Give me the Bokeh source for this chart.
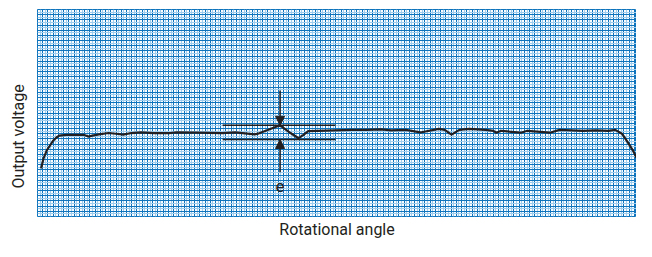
from bokeh.plotting import figure
from bokeh.models import Grid, FixedTicker, Range1d, Label, Arrow, NormalHead, Title
from bokeh.embed import file_html
from bokeh.resources import INLINE

# Measured trace (rotational angle vs output voltage, in chart-grid units)
angle = [0.69, 1.17, 1.80, 2.42, 3.03, 3.67, 4.15, 5.53, 8.00, 8.93, 9.73, 10.47,
         11.72, 13.58, 15.44, 16.37, 17.92, 19.78, 22.27, 25.36, 26.60, 30.33,
         35.29, 37.77, 41.49, 42.10, 46.33, 48.32, 49.86, 50.79, 51.72, 55.13,
         60.09, 62.88, 65.67, 67.53, 70.33, 73.12, 76.65, 77.77, 79.07, 80.56,
         82.42, 85.58, 87.07, 87.63, 88.56, 90.42, 92.28, 93.58, 97.86, 99.72,
         104.19, 106.60, 109.02, 110.33, 111.63, 112.74, 113.67, 114.42]
voltage = [9.30, 11.29, 12.84, 13.77, 14.70, 15.31, 15.63, 15.76, 15.76, 15.76, 15.44, 15.63,
           15.87, 16.13, 15.94, 15.81, 16.13, 16.24, 16.13, 16.13, 16.24, 16.19,
           16.13, 16.24, 15.87, 16.00, 17.62, 16.13, 15.13, 15.76, 16.50, 16.61,
           16.74, 16.74, 16.84, 16.65, 16.74, 16.24, 16.93, 16.74, 15.81, 16.74,
           16.93, 16.74, 16.56, 16.19, 16.56, 16.37, 16.19, 16.56, 16.19, 16.74,
           16.56, 16.65, 16.56, 16.74, 16.00, 14.33, 12.84, 11.35]

# Ripple "e" annotation
ref_angle = [35.35, 56.93]
ref_upper = 17.62
ref_lower = 14.88
e_angle = 46.33
arrow_top = 24.37
arrow_bottom = 8.56

x_label = "Rotational angle"
y_label = "Output voltage"
e_label = "e"

X_MAX = 114.4
Y_MAX = 40

DARK = "#0f74bc"
LIGHT = "#9fcdee"
INK = "#231f20"
FONT = "Roboto"

p = figure(width=636, height=241, output_backend="svg", toolbar_location=None,
           x_range=Range1d(0, X_MAX), y_range=Range1d(0, Y_MAX),
           x_axis_location=None, y_axis_location=None,
           min_border_left=37, min_border_right=0, min_border_top=9, min_border_bottom=25,
           background_fill_color="white", border_fill_color="white",
           outline_line_color=DARK, outline_line_width=1)

xmaj = [i for i in range(1, 115)]
xmin = [i + 0.5 for i in range(0, 115)]
ymaj = [i for i in range(1, 40)]
ymin = [i + 0.5 for i in range(0, 40)]

p.add_layout(Grid(dimension=0, ticker=FixedTicker(ticks=xmaj, minor_ticks=xmin),
                  grid_line_color=DARK, grid_line_width=1,
                  minor_grid_line_color=LIGHT, minor_grid_line_width=1.2))
p.add_layout(Grid(dimension=1, ticker=FixedTicker(ticks=ymaj, minor_ticks=ymin),
                  grid_line_color=DARK, grid_line_width=1,
                  minor_grid_line_color=LIGHT, minor_grid_line_width=1.2))

p.line(angle, voltage, line_color=INK, line_width=2.2, line_join="round")

p.segment(x0=[ref_angle[0], ref_angle[0]], y0=[ref_upper, ref_lower],
          x1=[ref_angle[1], ref_angle[1]], y1=[ref_upper, ref_lower],
          line_color=INK, line_width=1.6)

p.add_layout(Arrow(end=NormalHead(size=9, fill_color=INK, line_color=INK),
                   x_start=e_angle, y_start=arrow_top, x_end=e_angle, y_end=ref_upper,
                   line_color=INK, line_width=1.5))
p.add_layout(Arrow(end=NormalHead(size=9, fill_color=INK, line_color=INK),
                   x_start=e_angle, y_start=arrow_bottom, x_end=e_angle, y_end=ref_lower,
                   line_color=INK, line_width=1.5))

p.add_layout(Label(x=e_angle, y=5.9, text=e_label, text_align="center", text_baseline="middle",
                   text_font=FONT, text_font_size="17px", text_color=INK))

p.add_layout(Title(text=x_label, align="center", vertical_align="bottom", standoff=2,
                   text_font=FONT, text_font_size="16px", text_font_style="normal",
                   text_color=INK), "below")
p.add_layout(Title(text=y_label, align="left", offset=28, vertical_align="top", standoff=16,
                   text_font=FONT, text_font_size="16px", text_font_style="normal",
                   text_color=INK), "left")

open("out.html", "w").write(file_html(p, INLINE))
